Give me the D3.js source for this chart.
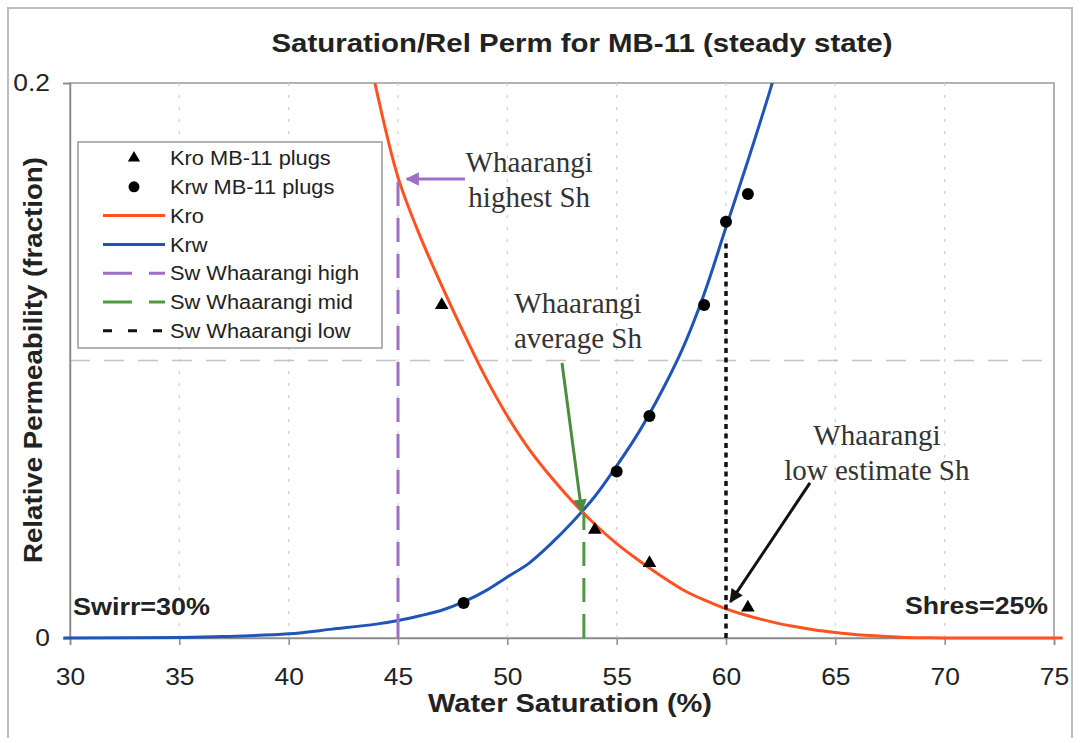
<!DOCTYPE html>
<html>
<head>
<meta charset="utf-8">
<script src="https://cdn.jsdelivr.net/npm/d3@7"></script>
<style>
  html, body { margin: 0; padding: 0; background: #fff; }
  svg { display: block; }
  text { font-family: "Liberation Sans", Arial, Helvetica, sans-serif; fill: #222; }
  .serif { font-family: "Liberation Serif", "Times New Roman", serif; fill: #333; }
</style>
</head>
<body>
<svg id="chart" width="1074" height="738"></svg>
<script>
// Water saturation (%) grid for the fitted curves
const swKro = [42, 43, 44, 45, 46, 47, 48, 49, 50, 51, 52, 53, 54, 55, 56, 57, 58, 59, 60, 61, 62, 63, 64, 65, 66, 67, 68, 69, 70, 75.4];
const kroCurve = [0.28, 0.236, 0.198, 0.166, 0.145, 0.127, 0.110, 0.094, 0.080, 0.068, 0.058, 0.049, 0.041, 0.034, 0.028, 0.0225, 0.0175, 0.0137, 0.0105, 0.008, 0.006, 0.0043, 0.003, 0.002, 0.0012, 0.0007, 0.0003, 0.0001, 0, 0];

const swKrw = [29.7, 35, 37, 40, 42, 44, 45, 46, 47, 48, 49, 50, 51, 52, 53, 54, 55, 56, 57, 58, 59, 60, 61, 62, 63];
const krwCurve = [0, 0.0002, 0.0005, 0.0015, 0.0032, 0.005, 0.0063, 0.008, 0.010, 0.013, 0.017, 0.022, 0.027, 0.034, 0.042, 0.051, 0.062, 0.074, 0.088, 0.104, 0.124, 0.148, 0.172, 0.197, 0.224];

// Core plug measurements
const kroPlugSw = [47, 54, 56.5, 61];
const kroPlugVal = [0.120, 0.039, 0.027, 0.011];
const krwPlugSw = [48, 55, 56.5, 59, 60, 61];
const krwPlugVal = [0.0126, 0.060, 0.080, 0.120, 0.150, 0.160];

// Whaarangi water saturation cases
const swHigh = 45, swMid = 53.5, swLow = 60;

// Axis ticks
const xTicks = [30, 35, 40, 45, 50, 55, 60, 65, 70, 75];
const yTickLabels = [0, 0.2];
const yGrid = [0.1];

const svg = d3.select("#chart");
const L = 70, R = 1054, T = 83, B = 638;
const x = d3.scaleLinear().domain([30, 75]).range([L, R]);
const y = d3.scaleLinear().domain([0, 0.2]).range([B, T]);

// widen glyphs slightly along the reading direction
function stretch(sel, s) {
  sel.each(function () {
    const w = this.getComputedTextLength();
    d3.select(this).attr("textLength", w * s).attr("lengthAdjust", "spacingAndGlyphs");
  });
}
function fitTo(sel, w) {
  sel.attr("textLength", w).attr("lengthAdjust", "spacingAndGlyphs");
}

// outer frame
svg.append("path")
  .attr("d", "M8,745 V8 H1072 V745")
  .attr("fill", "none").attr("stroke", "#bdbdbd").attr("stroke-width", 2);

// plot area border
svg.append("rect").attr("x", L).attr("y", T).attr("width", R - L).attr("height", B - T)
  .attr("fill", "#fff").attr("stroke", "#9a9a9a").attr("stroke-width", 1.5);

// vertical dotted grid
svg.append("g").selectAll("line").data(xTicks.slice(1, -1)).join("line")
  .attr("x1", d => x(d)).attr("x2", d => x(d)).attr("y1", T).attr("y2", B)
  .attr("stroke", "#cfcfcf").attr("stroke-width", 1.2).attr("stroke-dasharray", "3,9");

// horizontal dashed grid
svg.append("g").selectAll("line").data(yGrid).join("line")
  .attr("x1", L).attr("x2", R).attr("y1", d => y(d)).attr("y2", d => y(d))
  .attr("stroke", "#c4c4c4").attr("stroke-width", 1.3).attr("stroke-dasharray", "20,14");

// axes
const xAxis = svg.append("g").attr("transform", `translate(0,${B})`)
  .call(d3.axisBottom(x).tickValues(xTicks).tickSize(7).tickPadding(23).tickFormat(d3.format("d")));
const yAxis = svg.append("g").attr("transform", `translate(${L},0)`)
  .call(d3.axisLeft(y).tickValues(yTickLabels).tickSize(7).tickPadding(13).tickFormat(d => d === 0 ? "0" : d3.format(".1f")(d)));
[xAxis, yAxis].forEach(g => {
  g.select(".domain").attr("stroke", "#8a8a8a").attr("stroke-width", 1.5);
  g.selectAll(".tick line").attr("stroke", "#8a8a8a").attr("stroke-width", 1.5);
  g.selectAll(".tick text").attr("font-size", 24).attr("fill", "#222")
    .attr("font-family", "Liberation Sans, Arial, sans-serif");
  stretch(g.selectAll(".tick text"), 1.1);
});

// clip curves to the top of the plot
svg.append("clipPath").attr("id", "clipTop").append("rect")
  .attr("x", 0).attr("y", T).attr("width", 1074).attr("height", 738 - T);

const line = d3.line().x(d => x(d[0])).y(d => y(d[1])).curve(d3.curveCatmullRom.alpha(0.5));
const curves = svg.append("g").attr("clip-path", "url(#clipTop)");

curves.append("path").datum(d3.zip(swKrw, krwCurve)).attr("d", line)
  .attr("fill", "none").attr("stroke", "#1f55b8").attr("stroke-width", 3);
curves.append("path").datum(d3.zip(swKro, kroCurve)).attr("d", line)
  .attr("fill", "none").attr("stroke", "#ff5220").attr("stroke-width", 3);

// interpolate along a fitted curve
function at(xs, ys, v) {
  for (let i = 1; i < xs.length; i++) {
    if (v <= xs[i]) { const t = (v - xs[i - 1]) / (xs[i] - xs[i - 1]); return ys[i - 1] + t * (ys[i] - ys[i - 1]); }
  }
  return ys[ys.length - 1];
}

// saturation case markers
const cases = [
  { sw: swHigh, top: at(swKro, kroCurve, swHigh) + 0.002, color: "#9d6fc9", dash: "24,12", w: 3 },
  { sw: swMid, top: at(swKro, kroCurve, swMid), color: "#4c9b3f", dash: "24,12", w: 3 },
  { sw: swLow, top: at(swKrw, krwCurve, swLow) - 0.005, color: "#111", dash: "5,4.5", w: 3.5 }
];
svg.append("g").selectAll("line").data(cases).join("line")
  .attr("x1", d => x(d.sw)).attr("x2", d => x(d.sw))
  .attr("y1", d => y(0)).attr("y2", d => y(d.top))
  .attr("stroke", d => d.color).attr("stroke-width", d => d.w).attr("stroke-dasharray", d => d.dash);

// plug points
svg.append("g").selectAll("path").data(d3.zip(kroPlugSw, kroPlugVal)).join("path")
  .attr("d", d3.symbol(d3.symbolTriangle, 80))
  .attr("transform", d => `translate(${x(d[0])},${y(d[1])})`).attr("fill", "#000");
svg.append("g").selectAll("circle").data(d3.zip(krwPlugSw, krwPlugVal)).join("circle")
  .attr("cx", d => x(d[0])).attr("cy", d => y(d[1])).attr("r", 6).attr("fill", "#000");

// annotations with arrows
const defs = svg.append("defs");
function marker(id, color) {
  defs.append("marker").attr("id", id).attr("viewBox", "0 0 10 10").attr("refX", 9).attr("refY", 5)
    .attr("markerWidth", 5).attr("markerHeight", 4.5).attr("orient", "auto")
    .attr("markerUnits", "strokeWidth")
    .append("path").attr("d", "M0,0 L10,5 L0,10 Z").attr("fill", color);
}
marker("ahPurple", "#9d6fc9");
marker("ahGreen", "#4c8c3d");
marker("ahBlack", "#111");

const notes = [
  { lines: ["Whaarangi", "highest Sh"], tx: 51.0, ty: 0.168, from: [48.06, 0.1654], to: [45.4, 0.1654], color: "#9d6fc9", id: "ahPurple" },
  { lines: ["Whaarangi", "average Sh"], tx: 53.23, ty: 0.1171, from: [52.5, 0.0991], to: [53.4, 0.0455], color: "#4c8c3d", id: "ahGreen" },
  { lines: ["Whaarangi", "low estimate Sh"], tx: 66.9, ty: 0.0695, from: [63.84, 0.0559], to: [60.2, 0.0130], color: "#111", id: "ahBlack" }
];
const ng = svg.append("g");
notes.forEach(n => {
  ng.append("line").attr("x1", x(n.from[0])).attr("y1", y(n.from[1]))
    .attr("x2", x(n.to[0])).attr("y2", y(n.to[1]))
    .attr("stroke", n.color).attr("stroke-width", 3).attr("marker-end", `url(#${n.id})`);
  const t = ng.append("text").attr("class", "serif").attr("text-anchor", "middle")
    .attr("x", x(n.tx)).attr("y", y(n.ty)).attr("font-size", 29);
  n.lines.forEach((s, i) => t.append("tspan").attr("x", x(n.tx)).attr("dy", i ? 35 : 0).text(s));
});

// residual saturation labels
fitTo(svg.append("text").attr("x", 73).attr("y", 615).attr("font-size", 24.5).attr("font-weight", "bold").text("Swirr=30%"), 137);
fitTo(svg.append("text").attr("x", 1048).attr("y", 614).attr("text-anchor", "end").attr("font-size", 24.5).attr("font-weight", "bold").text("Shres=25%"), 143);

// legend
const lg = svg.append("g");
lg.append("rect").attr("x", 78).attr("y", 142).attr("width", 304).attr("height", 206)
  .attr("fill", "#fff").attr("stroke", "#9a9a9a").attr("stroke-width", 1.5);
const legendItems = [
  { label: "Kro MB-11 plugs", kind: "tri" },
  { label: "Krw MB-11 plugs", kind: "dot" },
  { label: "Kro", kind: "line", color: "#ff5220" },
  { label: "Krw", kind: "line", color: "#1f55b8" },
  { label: "Sw Whaarangi high", kind: "line", color: "#9d6fc9", dash: "29,17" },
  { label: "Sw Whaarangi mid", kind: "line", color: "#4c9b3f", dash: "29,17" },
  { label: "Sw Whaarangi low", kind: "line", color: "#111", dash: "9,16" }
];
legendItems.forEach((d, i) => {
  const cy = 158 + i * 28.8;
  if (d.kind === "tri") {
    lg.append("path").attr("d", d3.symbol(d3.symbolTriangle, 65)).attr("transform", `translate(134,${cy})`).attr("fill", "#000");
  } else if (d.kind === "dot") {
    lg.append("circle").attr("cx", 134).attr("cy", cy).attr("r", 5.5).attr("fill", "#000");
  } else {
    lg.append("line").attr("x1", 103).attr("x2", 165).attr("y1", cy).attr("y2", cy)
      .attr("stroke", d.color).attr("stroke-width", 3).attr("stroke-dasharray", d.dash || null);
  }
  stretch(lg.append("text").attr("x", 170).attr("y", cy).attr("dy", "0.36em").attr("font-size", 20).text(d.label), 1.09);
});

// titles
fitTo(svg.append("text").attr("x", 582).attr("y", 52).attr("text-anchor", "middle")
  .attr("font-size", 26).attr("font-weight", "bold").text("Saturation/Rel Perm for MB-11 (steady state)"), 621);
fitTo(svg.append("text").attr("x", 570).attr("y", 712).attr("text-anchor", "middle")
  .attr("font-size", 25).attr("font-weight", "bold").text("Water Saturation (%)"), 284);
fitTo(svg.append("text").attr("transform", "translate(42,360) rotate(-90)").attr("text-anchor", "middle")
  .attr("font-size", 25).attr("font-weight", "bold").text("Relative Permeability (fraction)"), 406);
</script>
</body>
</html>
